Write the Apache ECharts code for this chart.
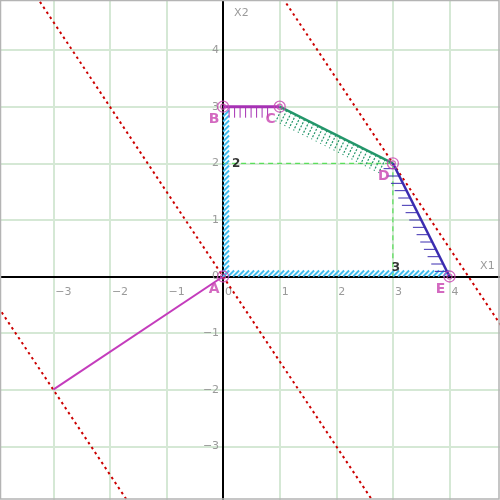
<!DOCTYPE html>
<html><head><meta charset="utf-8">
<script src="https://cdn.jsdelivr.net/npm/echarts@6/dist/echarts.min.js"></script>
<style>html,body{margin:0;padding:0;background:#fff}#c{width:500px;height:500px}</style>
</head><body><div id="c"></div>
<script>
// ---- data ----
const vertexNames = ['A', 'B', 'C', 'D', 'E'];
const vertexX = [0, 0, 1, 3, 4];
const vertexY = [0, 3, 3, 2, 0];
// constraint boundary segments (vertex index pairs)
const boundaryFrom = [0, 0, 1, 2, 3];
const boundaryTo   = [1, 4, 2, 3, 4];
// level lines 3*x1 + 2*x2 = c  (c = 0, -13, 13), two points each
const levelX = [[-4, 5], [-4.5, -1], [1, 5]];
const levelY = [[6, -7.5], [0.25, -5], [5, -1]];
// gradient vector
const vectorX = [0, -3];
const vectorY = [0, -2];
// projections of the optimum D
const projX = [[0, 3], [3, 3]];
const projY = [[2, 2], [2, 0]];
const projLabelX = [0, 3];
const projLabelY = [2, 0];
const projLabels = ['2', '3'];
// axis tick labels
const tickValues = [-3, -2, -1, 0, 1, 2, 3, 4];
const axisNames = ['X1', 'X2'];

// ---- layout / styles ----
const gridBox = {left: -3.3, top: -6.5, width: 509.4, height: 509.4};
const boundaryStyles = [
  {kind: 'band', color: '#3fbdf0', side: 1, width: 6, spacing: 5, hatchWidth: 1.8},
  {kind: 'band', color: '#3fbdf0', side: -1, width: 6, spacing: 5, hatchWidth: 1.8},
  {kind: 'tick', color: '#a632b4', side: 1, lineWidth: 3, len: 11, spacing: 5.5, start: 6, end: 8, hatchWidth: 1, dash: null},
  {kind: 'tick', color: '#23966a', side: 1, lineWidth: 2.5, len: 15, spacing: 5, start: 3, end: 4, hatchWidth: 1.2, dash: [2, 1.5]},
  {kind: 'tick', color: '#3a2cb0', dir: [-1, 0], lineWidth: 2.5, len: 12, spacing: 8.2, start: 6, end: 4, hatchWidth: 1, dash: null}
];

function renderBoundary(params, api) {
  const st = boundaryStyles[params.dataIndex];
  const p1 = api.coord([api.value(0), api.value(1)]);
  const p2 = api.coord([api.value(2), api.value(3)]);
  const dx = p2[0] - p1[0], dy = p2[1] - p1[1];
  const L = Math.hypot(dx, dy);
  const d = [dx / L, dy / L];
  const n = st.dir ? st.dir : [-d[1] * st.side, d[0] * st.side];
  const children = [];
  if (st.kind === 'band') {
    for (let t = 0; t <= L - st.width; t += st.spacing) {
      const a = [p1[0] + d[0] * t, p1[1] + d[1] * t];
      children.push({
        type: 'line',
        shape: {x1: a[0], y1: a[1], x2: a[0] + (n[0] + d[0]) * st.width, y2: a[1] + (n[1] + d[1]) * st.width},
        style: {stroke: st.color, lineWidth: st.hatchWidth}
      });
    }
  } else {
    for (let t = st.start; t <= L - st.end; t += st.spacing) {
      const a = [p1[0] + d[0] * t, p1[1] + d[1] * t];
      children.push({
        type: 'line',
        shape: {x1: a[0], y1: a[1], x2: a[0] + n[0] * st.len, y2: a[1] + n[1] * st.len},
        style: {stroke: st.color, lineWidth: st.hatchWidth, lineDash: st.dash}
      });
    }
    children.push({
      type: 'line',
      shape: {x1: p1[0], y1: p1[1], x2: p2[0], y2: p2[1]},
      style: {stroke: st.color, lineWidth: st.lineWidth}
    });
  }
  return {type: 'group', children: children};
}

const fmt = v => tickValues.indexOf(v) >= 0 ? String(v).replace('-', '\u2212') : '';
const labelFont = {color: '#9a9a9a', fontSize: 11, fontFamily: 'DejaVu Sans'};

const series = [];
levelX.forEach((xs, i) => {
  series.push({
    type: 'line', silent: true, symbol: 'none', z: 3,
    data: xs.map((x, j) => [x, levelY[i][j]]),
    lineStyle: {color: '#cc0000', width: 2, type: [2.5, 3.5]}
  });
});
projX.forEach((xs, i) => {
  series.push({
    type: 'line', silent: true, symbol: 'none', z: 3,
    data: xs.map((x, j) => [x, projY[i][j]]),
    lineStyle: {color: '#3ddc3d', width: 1, type: [5, 4]}
  });
});
series.push({
  type: 'line', silent: true, symbol: 'none', z: 4,
  data: vectorX.map((x, j) => [x, vectorY[j]]),
  lineStyle: {color: '#c43cbc', width: 2}
});
series.push({
  type: 'custom', z: 5, silent: true,
  renderItem: renderBoundary,
  encode: {x: [0, 2], y: [1, 3]},
  data: boundaryFrom.map((f, i) => [vertexX[f], vertexY[f], vertexX[boundaryTo[i]], vertexY[boundaryTo[i]]])
});
const projLabelSeries = {
  type: 'scatter', z: 6, silent: true, symbolSize: 0,
  data: projLabelX.map((x, i) => ({value: [x, projLabelY[i]], name: projLabels[i]})),
  label: {show: true, formatter: '{b}', position: 'inside', color: '#000', fontWeight: 'bold', fontSize: 12, fontFamily: 'DejaVu Sans'}
};
projLabelSeries.data[0].label = {offset: [13, 1]};
projLabelSeries.data[1].label = {offset: [3, -9]};
series.push(projLabelSeries);
series.push({
  type: 'scatter', z: 7, silent: true, symbol: 'circle', symbolSize: 11,
  itemStyle: {color: 'rgba(0,0,0,0)', borderColor: '#c844b0', borderWidth: 1.3},
  data: vertexX.map((x, i) => ({value: [x, vertexY[i]], name: vertexNames[i]})),
  label: {show: true, formatter: '{b}', position: 'inside', offset: [-9, 13], color: '#c844b0', fontWeight: 'bold', fontSize: 14, fontFamily: 'DejaVu Sans'}
});
series.push({
  type: 'scatter', z: 7, silent: true, symbol: 'circle', symbolSize: 5,
  itemStyle: {color: 'rgba(0,0,0,0)', borderColor: '#c844b0', borderWidth: 1.2},
  data: vertexX.map((x, i) => [x, vertexY[i]])
});

const chart = echarts.init(document.getElementById('c'), null, {renderer: 'canvas'});
chart.setOption({
  animation: false,
  backgroundColor: '#fff',
  grid: Object.assign({containLabel: false, outerBoundsMode: 'none'}, gridBox),
  xAxis: {
    type: 'value', min: -4, max: 5, interval: 1, position: 'bottom',
    name: axisNames[0], nameLocation: 'end', nameGap: -26,
    nameTextStyle: Object.assign({}, labelFont, {align: 'left', verticalAlign: 'bottom', padding: [0, 0, 5, 0]}),
    axisLine: {onZero: false, lineStyle: {color: '#000', width: 2}},
    axisTick: {show: false},
    axisLabel: Object.assign({}, labelFont, {formatter: fmt, align: 'left', margin: 10, padding: [0, 0, 0, 2], showMinLabel: false, showMaxLabel: false}),
    splitLine: {show: true, lineStyle: {color: '#d5e8d5', width: 2}}
  },
  yAxis: {
    type: 'value', min: -4, max: 5, interval: 1, position: 'left',
    name: axisNames[1], nameLocation: 'end', nameGap: -20,
    nameTextStyle: Object.assign({}, labelFont, {align: 'left', verticalAlign: 'middle', padding: [0, 0, 0, 11]}),
    axisLine: {onZero: false, lineStyle: {color: '#000', width: 2}},
    axisTick: {show: false},
    axisLabel: Object.assign({}, labelFont, {formatter: fmt, margin: 4, showMinLabel: false, showMaxLabel: false}),
    splitLine: {show: true, lineStyle: {color: '#d5e8d5', width: 2}}
  },
  graphic: [{
    type: 'rect', z: 100, silent: true,
    shape: {x: 0.5, y: 0.5, width: 498.5, height: 498.5},
    style: {fill: null, stroke: '#b4b4b4', lineWidth: 1.5}
  }],
  series: series
});
// move both axes (line + labels) onto the zero of the other axis
const zeroX = chart.convertToPixel({xAxisIndex: 0}, 0);
const zeroY = chart.convertToPixel({yAxisIndex: 0}, 0);
chart.setOption({
  xAxis: {offset: -(gridBox.top + gridBox.height - zeroY)},
  yAxis: {offset: -(zeroX - gridBox.left)}
});
</script></body></html>
